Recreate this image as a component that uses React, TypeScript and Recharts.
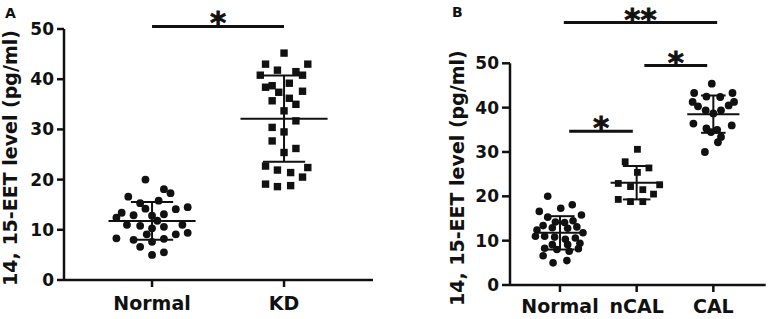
import React from "react";
import { ReferenceLine, Scatter, ScatterChart, XAxis, YAxis } from "recharts";

const groupsA = ["Normal", "KD"];
const groupsB = ["Normal", "nCAL", "CAL"];
const yTicks = [0, 10, 20, 30, 40, 50];

// 14,15-EET (pg/ml), one value per subject
const normalVals = [
  20.0, 18.1, 17.3, 16.6, 15.3, 15.8, 14.2, 14.1, 14.5, 13.4, 12.9, 12.8, 13.1, 12.4, 11.8,
  11.0, 10.8, 10.3, 10.6, 11.0, 9.1, 9.1, 9.4, 8.3, 8.0, 7.6, 8.2, 6.6, 5.0, 5.5,
];
// horizontal scatter offsets (category units) as laid out in each panel
const normalJitterA = [
  -0.05, 0.09, 0.14, -0.18, -0.09, 0.05, -0.05, 0.18, 0.27, -0.23, -0.14, 0, 0.09, -0.27, 0.04,
  -0.19, -0.09, 0, 0.09, 0.23, -0.04, 0.18, 0.27, -0.27, -0.14, 0, 0.09, -0.09, 0, 0.09,
];
const normalJitterB = [
  -0.16, 0.16, 0.01, -0.27, -0.16, 0.28, -0.06, 0.06, 0.17, -0.22, -0.1, 0.1, 0.22, -0.3, 0.3,
  -0.2, -0.07, 0.07, 0.2, -0.32, -0.1, 0.1, 0.26, -0.2, -0.04, 0.12, 0.24, -0.22, -0.09, 0.09,
];

const kdVals = [
  45.2, 43.0, 43.0, 41.8, 40.8, 41.5, 40.8, 38.4, 38.7, 39.2, 37.4, 37.6, 35.7, 36.2, 35.0,
  33.7, 31.7, 30.4, 29.5, 27.7, 25.4, 26.2, 22.7, 21.9, 21.4, 22.4, 20.5, 19.1, 18.6, 18.8,
];
const kdJitter = [
  0, -0.14, 0.18, -0.05, -0.18, 0.09, 0.14, -0.14, -0.09, 0.04, -0.04, 0.14, -0.09, 0.04, 0.09,
  0, 0.09, -0.09, 0, -0.09, 0, 0.09, -0.14, -0.05, 0.05, 0.18, 0.14, -0.14, -0.05, 0.05,
];

const ncalVals = [30.6, 27.8, 26.4, 25.4, 22.9, 22.6, 22.2, 21.5, 20.5, 19.3, 18.8, 18.8];
const ncalJitter = [0.01, -0.15, 0.16, 0.01, -0.24, 0.3, -0.08, 0.08, 0.22, -0.24, -0.08, 0.08];

const calVals = [
  45.4, 43.3, 43.3, 42.5, 42.4, 41.3, 41.3, 40.3, 40.5, 39.4, 39.4, 38.7, 36.4, 36.0, 35.3,
  35.0, 34.5, 33.4, 32.2, 30.0,
];
const calJitter = [
  -0.02, -0.25, 0.25, -0.09, 0.09, -0.27, 0.27, -0.2, 0.2, -0.1, 0.1, 0, -0.26, 0.24, -0.09,
  0.05, -0.03, 0.1, 0.06, -0.11,
];

// significance brackets: x span (category units), height (pg/ml), mark
const sigA = [{ from: 1, to: 2, at: 50.5, mark: "*" }];
const sigB = [
  { from: 1.05, to: 3.05, at: 59.2, mark: "**" },
  { from: 2.1, to: 2.92, at: 49.5, mark: "*" },
  { from: 1.12, to: 1.95, at: 34.7, mark: "*" },
];

const INK = "#111";
const FONT = "DejaVu Sans";
const axisStyle = { stroke: INK, strokeWidth: 2.5 };
const tickY = { fill: INK, fontSize: 17, fontWeight: "bold", fontFamily: FONT };
const tickX = { fill: INK, fontSize: 19, fontWeight: "bold", fontFamily: FONT };

const mean = (a: number[]) => a.reduce((s, v) => s + v, 0) / a.length;
const sd = (a: number[]) => {
  const m = mean(a);
  return Math.sqrt(a.reduce((s, v) => s + (v - m) ** 2, 0) / (a.length - 1));
};
const toPoints = (vals: number[], jitter: number[], pos: number) =>
  vals.map((v, i) => ({ x: pos + jitter[i], y: v }));

const dot = (r: number) => (p: any) => <circle cx={p.cx} cy={p.cy} r={r} fill={INK} />;
const box = (s: number) => (p: any) => (
  <rect x={p.cx - s / 2} y={p.cy - s / 2} width={s} height={s} fill={INK} />
);

const seg = (key: string, x1: number, y1: number, x2: number, y2: number, w = 2, label?: any) => (
  <ReferenceLine
    key={key}
    segment={[
      { x: x1, y: y1 },
      { x: x2, y: y2 },
    ]}
    stroke={INK}
    strokeWidth={w}
    ifOverflow="visible"
    label={label}
  />
);

// mean line with +/- SD whiskers
const meanSd = (id: string, vals: number[], pos: number, half: number, cap: number) => {
  const m = mean(vals);
  const s = sd(vals);
  return [
    seg(id + "m", pos - half, m, pos + half, m),
    seg(id + "v", pos, m - s, pos, m + s),
    seg(id + "t", pos - cap, m + s, pos + cap, m + s),
    seg(id + "b", pos - cap, m - s, pos + cap, m - s),
  ];
};

const Star = ({ viewBox, mark }: any) => (
  <text
    x={viewBox.x + viewBox.width / 2}
    y={viewBox.y + 7}
    textAnchor="middle"
    fontFamily={FONT}
    fontWeight="bold"
    fontSize={31}
    fill={INK}
    stroke={INK}
    strokeWidth={0.8}
  >
    {mark}
  </text>
);

const AxisTitle = ({ viewBox, baseX, shift }: any) => {
  const x = viewBox.x + baseX;
  const y = viewBox.y + viewBox.height / 2 + shift;
  return (
    <text
      x={x}
      y={y}
      transform={`rotate(-90, ${x}, ${y})`}
      textAnchor="middle"
      fontFamily={FONT}
      fontWeight="bold"
      fontSize={19}
      fill={INK}
    >
      14, 15-EET level (pg/ml)
    </text>
  );
};

const PanelA = () => (
  <ScatterChart width={380} height={319} margin={{ top: 29, right: 7, bottom: 0, left: 0 }}>
    <XAxis
      type="number"
      dataKey="x"
      domain={[0.333, 2.674]}
      ticks={[1, 2]}
      interval={0}
      tickFormatter={(v: number) => groupsA[v - 1]}
      height={39}
      tickSize={7}
      tickMargin={10}
      axisLine={axisStyle}
      tickLine={axisStyle}
      tick={tickX}
      allowDataOverflow
    />
    <YAxis
      type="number"
      dataKey="y"
      domain={[0, 50]}
      ticks={yTicks}
      interval={0}
      width={64}
      tickSize={7}
      tickMargin={3}
      axisLine={axisStyle}
      tickLine={axisStyle}
      tick={tickY}
      allowDataOverflow
      label={<AxisTitle baseX={17} shift={3.5} />}
    />
    <Scatter data={toPoints(normalVals, normalJitterA, 1)} shape={dot(3.9)} isAnimationActive={false} />
    <Scatter data={toPoints(kdVals, kdJitter, 2)} shape={box(7.4)} isAnimationActive={false} />
    {meanSd("an", normalVals, 1, 0.33, 0.16)}
    {meanSd("ak", kdVals, 2, 0.33, 0.16)}
    {sigA.map((s, i) => seg("as" + i, s.from, s.at, s.to, s.at, 3, <Star mark={s.mark} />))}
  </ScatterChart>
);

const PanelB = () => (
  <ScatterChart width={384} height={319} margin={{ top: 63.3, right: 2.3, bottom: 0, left: 0 }}>
    <XAxis
      type="number"
      dataKey="x"
      domain={[0.348, 3.683]}
      ticks={[1, 2, 3]}
      interval={0}
      tickFormatter={(v: number) => groupsB[v - 1]}
      height={34}
      tickSize={7}
      tickMargin={8}
      axisLine={axisStyle}
      tickLine={axisStyle}
      tick={tickX}
      allowDataOverflow
    />
    <YAxis
      type="number"
      dataKey="y"
      domain={[0, 50]}
      ticks={yTicks}
      interval={0}
      width={126}
      tickSize={8}
      tickMargin={3}
      axisLine={axisStyle}
      tickLine={axisStyle}
      tick={tickY}
      allowDataOverflow
      label={<AxisTitle baseX={80} shift={4} />}
    />
    <Scatter data={toPoints(normalVals, normalJitterB, 1)} shape={dot(3.8)} isAnimationActive={false} />
    <Scatter data={toPoints(ncalVals, ncalJitter, 2)} shape={box(6.8)} isAnimationActive={false} />
    <Scatter data={toPoints(calVals, calJitter, 3)} shape={dot(3.9)} isAnimationActive={false} />
    {meanSd("bn", normalVals, 1, 0.33, 0.19)}
    {meanSd("bc", ncalVals, 2, 0.34, 0.18)}
    {meanSd("bl", calVals, 3, 0.34, 0.16)}
    {sigB.map((s, i) => seg("bs" + i, s.from, s.at, s.to, s.at, 3, <Star mark={s.mark} />))}
  </ScatterChart>
);

export default function App() {
  return (
    <div style={{ position: "absolute", left: 0, top: 0, width: 768, height: 319, background: "#fff" }}>
      <div style={{ position: "absolute", left: 0, top: 0 }}>
        <PanelA />
      </div>
      <div style={{ position: "absolute", left: 384, top: 0 }}>
        <PanelB />
      </div>
      <svg width={768} height={319} style={{ position: "absolute", left: 0, top: 0, pointerEvents: "none" }}>
        <text x={5} y={18} fontFamily={FONT} fontWeight="bold" fontSize={14} fill={INK}>
          A
        </text>
        <text x={452} y={17} fontFamily={FONT} fontWeight="bold" fontSize={14} fill={INK}>
          B
        </text>
      </svg>
    </div>
  );
}
